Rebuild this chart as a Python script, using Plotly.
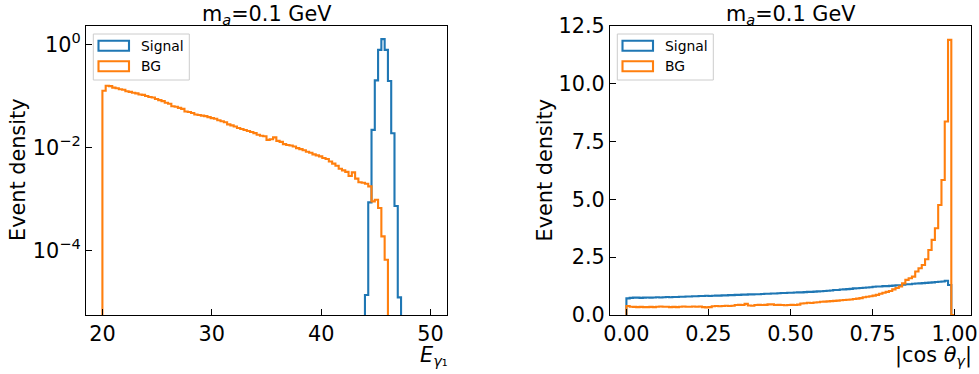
import numpy as np
import plotly.graph_objects as go

# ---------------- data ----------------
e_lo, e_hi = 20.0, 50.0          # histogram range for E_gamma1 (100 bins)
energy_bg = [
    0.126, 0.158, 0.155, 0.145, 0.141, 0.135, 0.132, 0.123, 0.120, 0.115,
    0.112, 0.107, 0.105, 0.100, 0.0955, 0.0933, 0.0871, 0.0832, 0.0794, 0.0741,
    0.0708, 0.0631, 0.0617, 0.0589, 0.0562, 0.0501, 0.0490, 0.0468, 0.0437, 0.0427,
    0.0417, 0.0407, 0.0389, 0.0372, 0.0363, 0.0339, 0.0324, 0.0309, 0.0282, 0.0269,
    0.0257, 0.0240, 0.0229, 0.0219, 0.0209, 0.0200, 0.0191, 0.0178, 0.0170, 0.0166,
    0.0141, 0.0145, 0.0158, 0.0135, 0.0129, 0.0117, 0.0112, 0.0110, 0.0105, 0.00977,
    0.00933, 0.00891, 0.00832, 0.00794, 0.00741, 0.00708, 0.00676, 0.00631, 0.00603, 0.00537,
    0.00490, 0.00447, 0.00389, 0.00363, 0.00339, 0.00282, 0.00331, 0.00251, 0.00214, 0.00209,
    0.00200, 0.00178, 0.000912, 0.000977, 0.000676, 0.000191, 0.0000676, 0, 0, 0,
    0, 0, 0, 0, 0, 0, 0, 0, 0, 0,
]
energy_sig = [
    0, 0, 0, 0, 0, 0, 0, 0, 0, 0,
    0, 0, 0, 0, 0, 0, 0, 0, 0, 0,
    0, 0, 0, 0, 0, 0, 0, 0, 0, 0,
    0, 0, 0, 0, 0, 0, 0, 0, 0, 0,
    0, 0, 0, 0, 0, 0, 0, 0, 0, 0,
    0, 0, 0, 0, 0, 0, 0, 0, 0, 0,
    0, 0, 0, 0, 0, 0, 0, 0, 0, 0,
    0, 0, 0, 0, 0, 0, 0, 0, 0, 0,
    1.4e-5, 8.7e-4, 0.022, 0.20, 0.78, 1.26, 0.78, 0.195, 0.019, 7.4e-4,
    1.26e-5, 0, 0, 0, 0, 0, 0, 0, 0, 0,
]

c_lo, c_hi = 0.0, 1.0            # histogram range for |cos theta| (100 bins)
cos_bg = [
    0.39, 0.36, 0.35, 0.34, 0.35, 0.34, 0.34, 0.35, 0.34, 0.36,
    0.37, 0.36, 0.36, 0.34, 0.35, 0.34, 0.36, 0.37, 0.36, 0.36,
    0.37, 0.36, 0.37, 0.34, 0.33, 0.34, 0.38, 0.39, 0.38, 0.39,
    0.40, 0.39, 0.40, 0.43, 0.44, 0.43, 0.48, 0.41, 0.40, 0.43,
    0.44, 0.43, 0.44, 0.46, 0.46, 0.43, 0.44, 0.43, 0.42, 0.43,
    0.44, 0.43, 0.45, 0.50, 0.51, 0.53, 0.52, 0.54, 0.55, 0.57,
    0.58, 0.59, 0.60, 0.61, 0.62, 0.64, 0.65, 0.66, 0.67, 0.69,
    0.71, 0.73, 0.77, 0.79, 0.81, 0.84, 0.87, 0.92, 0.96, 1.00,
    1.04, 1.11, 1.17, 1.23, 1.37, 1.52, 1.59, 1.66, 1.88, 2.02,
    2.16, 2.41, 2.81, 3.25, 3.75, 4.76, 5.84, 8.37, 11.9, 0.0,
]
cos_sig = [
    0.72, 0.74, 0.75, 0.75, 0.74, 0.75, 0.76, 0.75, 0.76, 0.77,
    0.76, 0.77, 0.78, 0.77, 0.78, 0.78, 0.79, 0.79, 0.80, 0.80,
    0.81, 0.81, 0.82, 0.82, 0.83, 0.82, 0.83, 0.84, 0.84, 0.85,
    0.85, 0.86, 0.86, 0.87, 0.87, 0.88, 0.88, 0.89, 0.89, 0.90,
    0.90, 0.91, 0.92, 0.92, 0.93, 0.93, 0.94, 0.95, 0.95, 0.96,
    0.96, 0.97, 0.98, 0.98, 0.99, 1.00, 1.00, 1.01, 1.02, 1.03,
    1.04, 1.05, 1.06, 1.08, 1.08, 1.10, 1.11, 1.12, 1.13, 1.15,
    1.16, 1.17, 1.18, 1.19, 1.20, 1.22, 1.23, 1.23, 1.25, 1.25,
    1.26, 1.27, 1.29, 1.29, 1.31, 1.33, 1.33, 1.35, 1.36, 1.37,
    1.38, 1.39, 1.40, 1.41, 1.43, 1.44, 1.45, 1.48, 1.30, 0.0,
]

series_names = ["Signal", "BG"]
series_colors = ["#1f77b4", "#ff7f0e"]
title_text = "m<sub><i>a</i></sub>=0.1 GeV"
ylabel_text = "Event density"
xlabel_left = "<i>E</i><sub><i>γ</i>₁</sub>"
xlabel_right = "|cos <i>θ</i><sub><i>γ</i></sub>|"
left_xticks = [20, 30, 40, 50]
left_yticks = [1e0, 1e-2, 1e-4]
left_yticklabels = ["10<sup>0</sup>", "10<sup>−2</sup>", "10<sup>−4</sup>"]
right_xticks = [0.0, 0.25, 0.5, 0.75, 1.0]
right_yticks = [0.0, 2.5, 5.0, 7.5, 10.0, 12.5]

# ---------------- helpers ----------------
W, H = 979, 374
FONT = "DejaVu Sans"
FS = 20.8
LFS = 13.9


def px(xp):
    return xp / W


def py(yp):
    return 1 - yp / H


def step_xy(lo, hi, vals, floor):
    v = np.asarray(vals, dtype=float)
    edges = np.linspace(lo, hi, len(v) + 1)
    v = np.where(v > 0, v, floor)
    x = np.concatenate([[edges[0]], edges])
    y = np.concatenate([[floor], v, [floor]])
    return x, y


fig = go.Figure()

# left panel (log y)
for vals, name, col in [(energy_sig, series_names[0], series_colors[0]),
                        (energy_bg, series_names[1], series_colors[1])]:
    x, y = step_xy(e_lo, e_hi, vals, 1e-12)
    fig.add_trace(go.Scatter(x=x, y=y, mode="lines", line=dict(color=col, width=2.1, shape="hv"),
                             name=name, xaxis="x", yaxis="y", showlegend=False))

# right panel (linear y)
for vals, name, col in [(cos_sig, series_names[0], series_colors[0]),
                        (cos_bg, series_names[1], series_colors[1])]:
    x, y = step_xy(c_lo, c_hi, vals, 0.0)
    fig.add_trace(go.Scatter(x=x, y=y, mode="lines", line=dict(color=col, width=2.1, shape="hv"),
                             name=name, xaxis="x2", yaxis="y2", showlegend=False))

# panel geometry in pixels
L1, R1 = 86, 447
L2, R2 = 610, 971
T, B = 26, 315

axis_common = dict(showgrid=False, zeroline=False, showline=True, linecolor="black",
                   linewidth=1.1, mirror=True, ticks="inside", ticklen=6, tickwidth=1.1,
                   tickcolor="black", automargin=False,
                   tickfont=dict(family=FONT, size=FS, color="black"))

e_pad = 0.05 * (e_hi - e_lo)
c_pad = 0.05 * (c_hi - c_lo)

fig.update_layout(
    width=W, height=H, margin=dict(l=0, r=0, t=0, b=0, pad=0, autoexpand=False),
    paper_bgcolor="white", plot_bgcolor="white", showlegend=False,
    font=dict(family=FONT, size=FS, color="black"),
    xaxis=dict(domain=[px(L1), px(R1)], anchor="y", range=[e_lo - e_pad, e_hi + e_pad],
               tickvals=left_xticks, **axis_common),
    yaxis=dict(domain=[py(B), py(T)], anchor="x", type="log", range=[-5.24, 0.354],
               tickvals=left_yticks, ticktext=left_yticklabels, **axis_common),
    xaxis2=dict(domain=[px(L2), px(R2)], anchor="y2", range=[c_lo - c_pad, c_hi + c_pad],
                tickvals=right_xticks, tickformat=".2f", **axis_common),
    yaxis2=dict(domain=[py(B), py(T)], anchor="x2", range=[0, 12.5],
                tickvals=right_yticks, tickformat=".1f", **axis_common),
)

ann = []
shapes = []
for (Lp, Rp, xl, ycx) in [(L1, R1, xlabel_left, 18.5), (L2, R2, xlabel_right, 545)]:
    # title
    ann.append(dict(text=title_text, x=px((Lp + Rp) / 2), y=py(30), xref="paper", yref="paper",
                    xanchor="center", yanchor="bottom", showarrow=False,
                    font=dict(family=FONT, size=FS, color="black")))
    # y label
    ann.append(dict(text=ylabel_text, x=px(ycx), y=py((T + B) / 2), xref="paper", yref="paper",
                    xanchor="center", yanchor="middle", textangle=-90, showarrow=False,
                    font=dict(family=FONT, size=FS, color="black")))
    # x label (right aligned)
    ann.append(dict(text=xl, x=px(Rp + 2), y=py(356), xref="paper", yref="paper",
                    xanchor="right", yanchor="middle", showarrow=False, borderpad=0,
                    font=dict(family=FONT, size=FS, color="black")))
    # legend frame
    fl = Lp + 7.3
    shapes.append(dict(type="rect", xref="paper", yref="paper", x0=px(fl), x1=px(fl + 96),
                       y0=py(80), y1=py(34), line=dict(color="#cccccc", width=1),
                       fillcolor="rgba(255,255,255,0.8)", layer="above"))
    for k, (name, col) in enumerate(zip(series_names, series_colors)):
        yt = 40.7 + 20.5 * k
        shapes.append(dict(type="rect", xref="paper", yref="paper",
                           x0=px(fl + 5.2), x1=px(fl + 35.7), y0=py(yt + 10), y1=py(yt),
                           line=dict(color=col, width=2.1), fillcolor="rgba(0,0,0,0)",
                           layer="above"))
        ann.append(dict(text=name, x=px(fl + 45.5), y=py(yt + 5.2), xref="paper", yref="paper",
                        xanchor="left", yanchor="middle", showarrow=False,
                        font=dict(family=FONT, size=LFS, color="black")))

fig.update_layout(annotations=ann, shapes=shapes)
fig.write_html("out.html")
